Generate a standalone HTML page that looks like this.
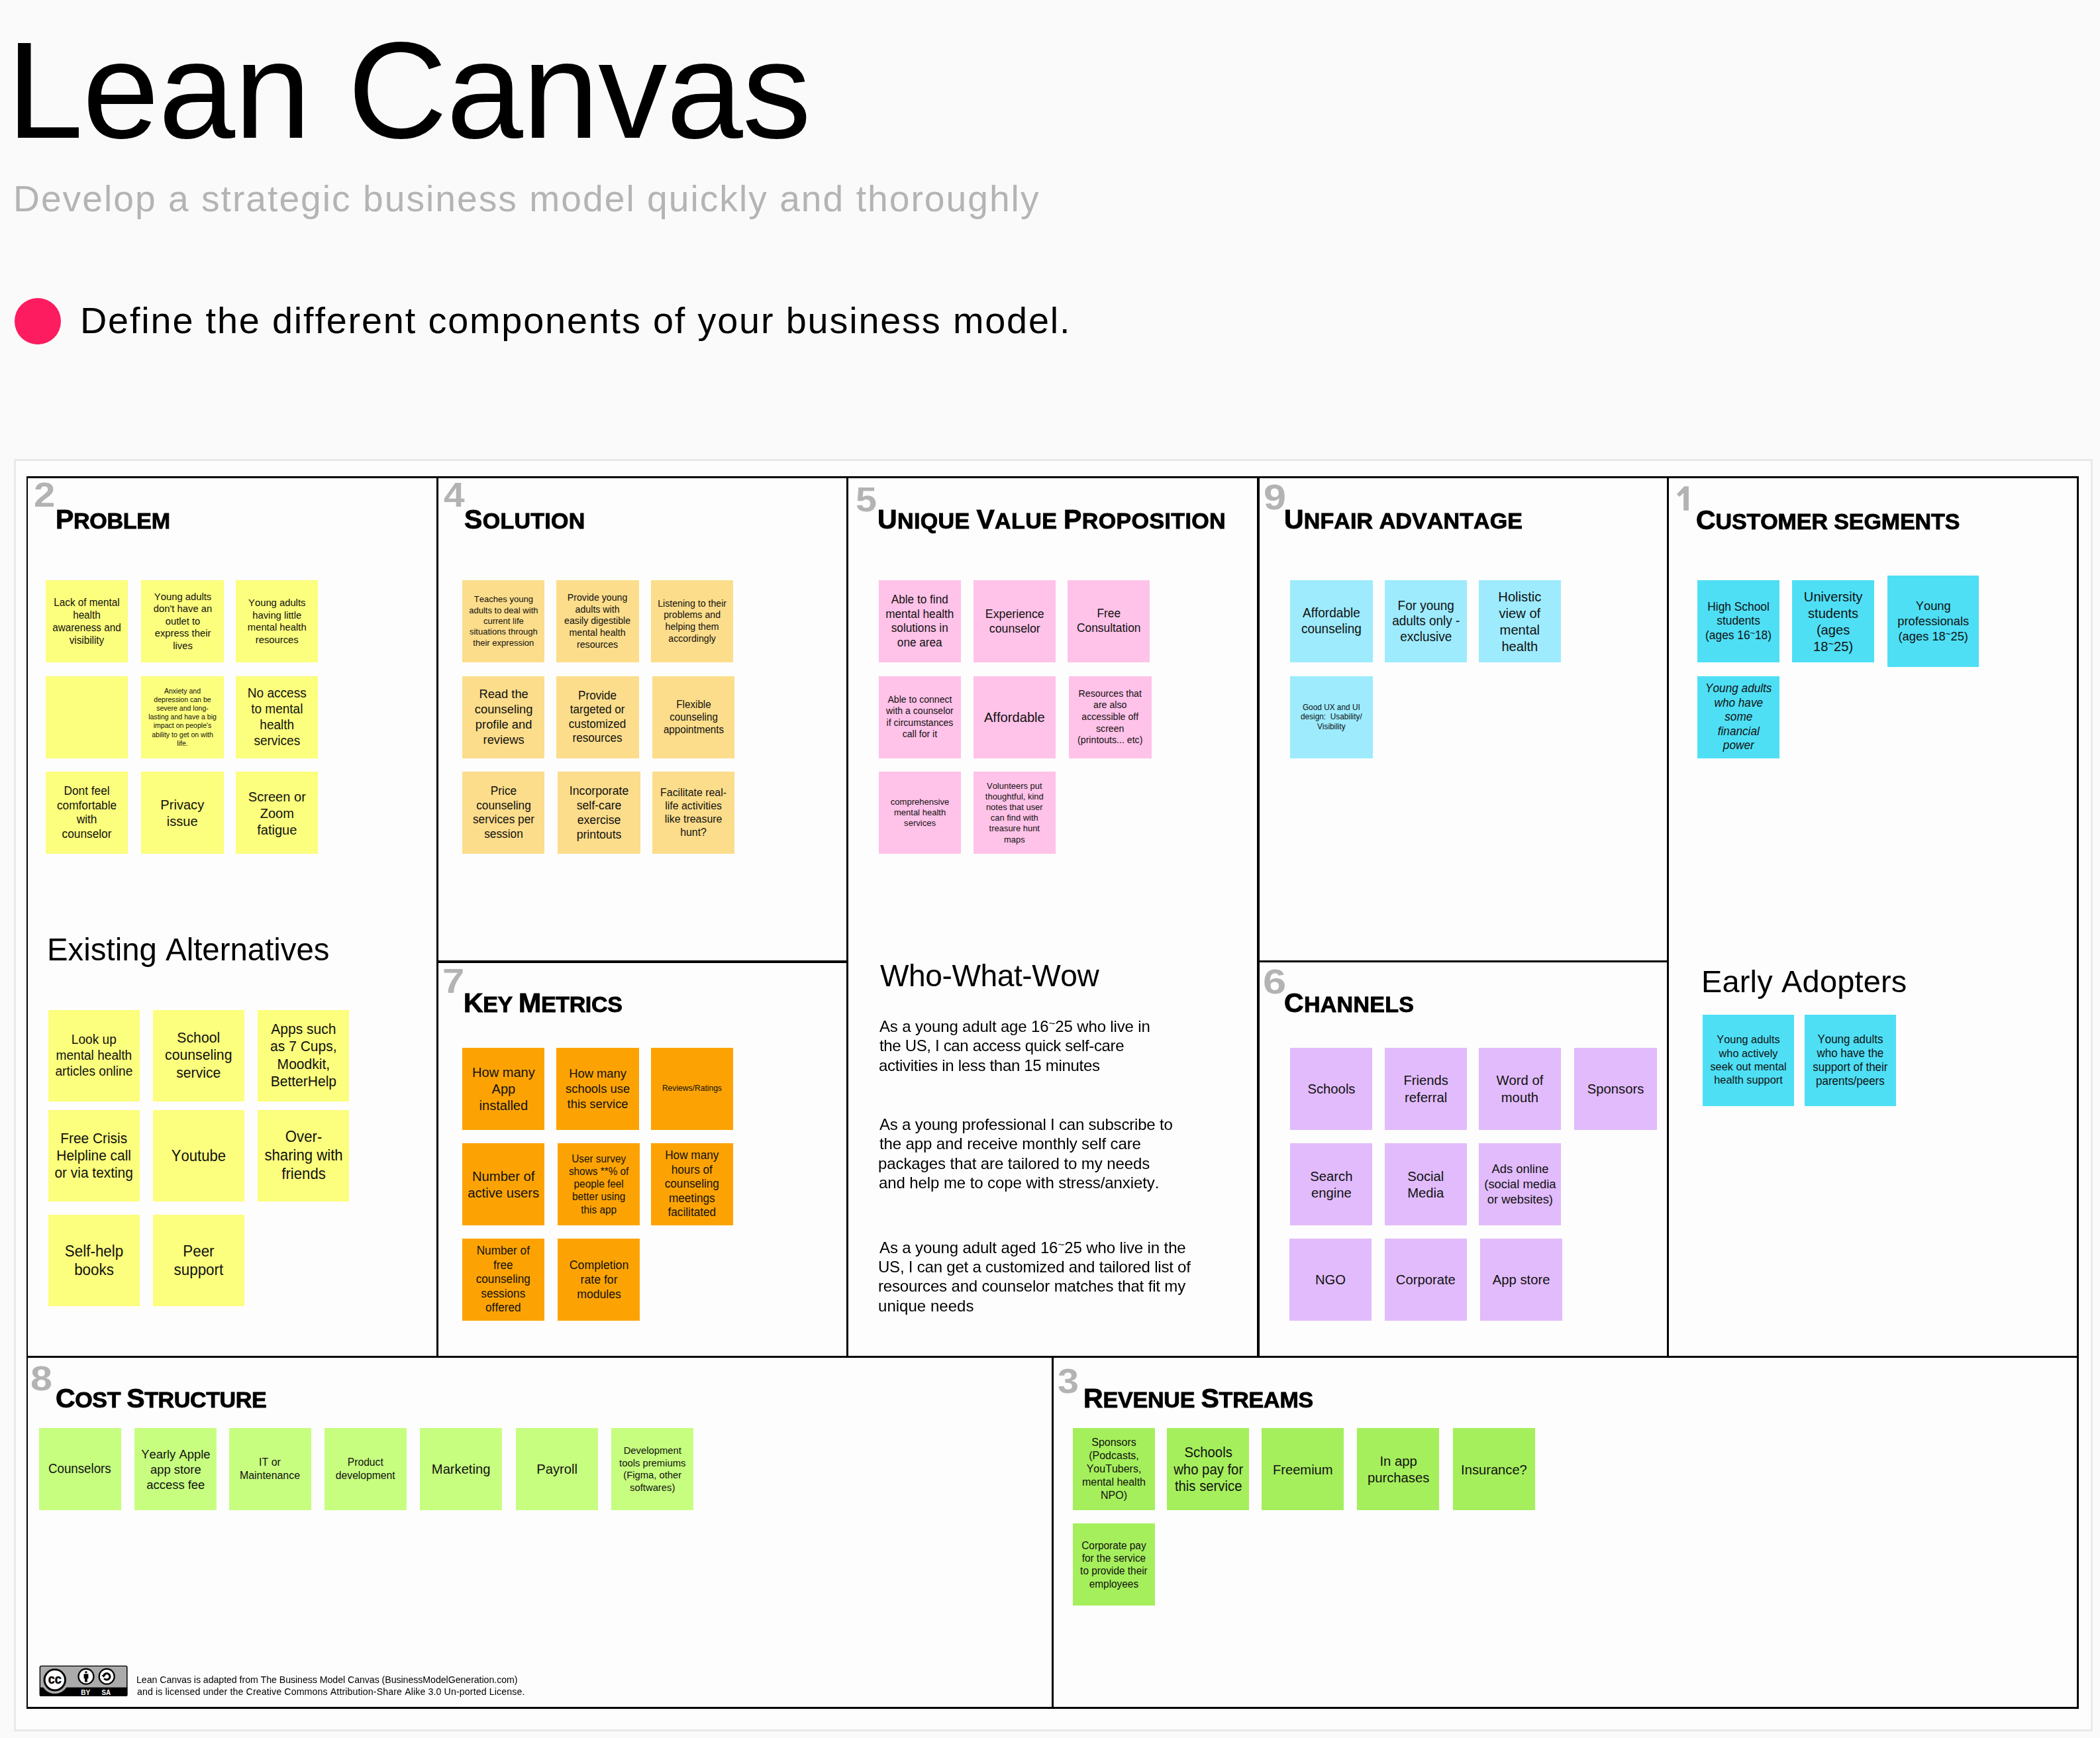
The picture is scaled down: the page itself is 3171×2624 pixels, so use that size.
<!DOCTYPE html>
<html><head><meta charset="utf-8"><title>Lean Canvas</title>
<style>
html,body{margin:0;padding:0}
body{font-kerning:none;width:3171px;height:2624px;background:#fafafa;position:relative;overflow:hidden;font-family:"Liberation Sans",sans-serif;color:#000}
.panel{position:absolute;left:21px;top:693px;width:3133px;height:1914.5px;border:3px solid #e9e9e9;background:#fdfdfd}
.l{position:absolute;background:#000}
.t{position:absolute;white-space:pre;line-height:1;will-change:transform}
.ft{color:#000}
.h{position:absolute;white-space:pre;line-height:1;font-weight:700;font-size:34.01px;height:40.99px}
.h b{font-size:40.99px}
.h{-webkit-text-stroke:0.9px #000;will-change:transform}
.num{position:absolute;line-height:1;font-weight:700;color:#b3b3b3;transform-origin:0 50%}
.n{position:absolute;display:flex;align-items:center;justify-content:center}
.nt{text-align:center;white-space:pre;color:#111}
.tl{font-style:inherit;font-size:.72em;vertical-align:.4em;line-height:0}
.dot{position:absolute;left:22.3px;top:449.6px;width:69.4px;height:70.4px;border-radius:50%;background:#fc1c5f}
</style></head><body>
<div class="panel"></div>
<div class="dot"></div>
<!-- grid lines -->
<div class="l" style="left:40px;top:719px;width:3099px;height:3px"></div>
<div class="l" style="left:40px;top:2577px;width:3099px;height:3px"></div>
<div class="l" style="left:40px;top:719px;width:2.4px;height:1861px"></div>
<div class="l" style="left:3136px;top:719px;width:3px;height:1861px"></div>
<div class="l" style="left:40px;top:2047.3px;width:3099px;height:3px"></div>
<div class="l" style="left:659.2px;top:719px;width:2.8px;height:1331px"></div>
<div class="l" style="left:1278.4px;top:719px;width:2.8px;height:1331px"></div>
<div class="l" style="left:1897.7px;top:719px;width:4px;height:1331px"></div>
<div class="l" style="left:2517px;top:719px;width:3px;height:1331px"></div>
<div class="l" style="left:659.2px;top:1450.4px;width:621px;height:3.2px"></div>
<div class="l" style="left:1897.7px;top:1450.2px;width:622px;height:3.2px"></div>
<div class="l" style="left:1587.6px;top:2047.3px;width:3px;height:532px"></div>
<div class="n" style="left:69.1px;top:876px;width:124.4px;height:124.4px;background:#FCFE7D;"><div class="nt" style="font-size:15.92px;line-height:19.1px;transform:translate(0px,0.4px) scaleX(0.96);">Lack of mental<br>health<br>awareness and<br>visibility</div></div>
<div class="n" style="left:213.4px;top:876px;width:124.4px;height:124.4px;background:#FCFE7D;"><div class="nt" style="font-size:15.42px;line-height:18.5px;transform:translate(0px,0.4px) scaleX(0.96);">Young adults<br>don&#x27;t have an<br>outlet to<br>express their<br>lives</div></div>
<div class="n" style="left:355.8px;top:876px;width:124.4px;height:124.4px;background:#FCFE7D;"><div class="nt" style="font-size:15.42px;line-height:18.5px;transform:translate(0px,0.4px) scaleX(0.96);">Young adults<br>having little<br>mental health<br>resources</div></div>
<div class="n" style="left:69.1px;top:1020.7px;width:124.4px;height:124.4px;background:#FCFE7D;"></div>
<div class="n" style="left:213.4px;top:1020.7px;width:124.4px;height:124.4px;background:#FCFE7D;"><div class="nt" style="font-size:11px;line-height:13.2px;transform:translate(0px,0.4px) scaleX(0.96);">Anxiety and<br>depression can be<br>severe and long-<br>lasting and have a big<br>impact on people&#x27;s<br>ability to get on with<br>life.</div></div>
<div class="n" style="left:355.8px;top:1020.7px;width:124.4px;height:124.4px;background:#FCFE7D;"><div class="nt" style="font-size:19.83px;line-height:23.8px;transform:translate(0px,0.4px) scaleX(0.96);">No access<br>to mental<br>health<br>services</div></div>
<div class="n" style="left:69.1px;top:1165px;width:124.4px;height:124.4px;background:#FCFE7D;"><div class="nt" style="font-size:18px;line-height:21.6px;transform:translate(0px,0.4px) scaleX(0.96);">Dont feel<br>comfortable<br>with<br>counselor</div></div>
<div class="n" style="left:213.4px;top:1165px;width:124.4px;height:124.4px;background:#FCFE7D;"><div class="nt" style="font-size:20.92px;line-height:25.1px;transform:translate(0px,0.4px) scaleX(0.96);">Privacy<br>issue</div></div>
<div class="n" style="left:355.8px;top:1165px;width:124.4px;height:124.4px;background:#FCFE7D;"><div class="nt" style="font-size:20.92px;line-height:25.1px;transform:translate(0px,0.4px) scaleX(0.96);">Screen or<br>Zoom<br>fatigue</div></div>
<div class="n" style="left:698.1px;top:876px;width:124.4px;height:124.4px;background:#FCDD8B;"><div class="nt" style="font-size:13.58px;line-height:16.3px;transform:translate(0px,0.4px) scaleX(0.96);">Teaches young<br>adults to deal with<br>current life<br>situations through<br>their expression</div></div>
<div class="n" style="left:840.2px;top:876px;width:124.4px;height:124.4px;background:#FCDD8B;"><div class="nt" style="font-size:14.75px;line-height:17.7px;transform:translate(0px,0.4px) scaleX(0.96);">Provide young<br>adults with<br>easily digestible<br>mental health<br>resources</div></div>
<div class="n" style="left:982.9px;top:876px;width:124.4px;height:124.4px;background:#FCDD8B;"><div class="nt" style="font-size:14.75px;line-height:17.7px;transform:translate(0px,0.4px) scaleX(0.96);">Listening to their<br>problems and<br>helping them<br>accordingly</div></div>
<div class="n" style="left:698.1px;top:1020.7px;width:124.4px;height:124.4px;background:#FCDD8B;"><div class="nt" style="font-size:19.08px;line-height:22.9px;transform:translate(0px,0.4px) scaleX(0.96);">Read the<br>counseling<br>profile and<br>reviews</div></div>
<div class="n" style="left:840.2px;top:1020.7px;width:124.4px;height:124.4px;background:#FCDD8B;"><div class="nt" style="font-size:17.83px;line-height:21.4px;transform:translate(0px,0.4px) scaleX(0.96);">Provide<br>targeted or<br>customized<br>resources</div></div>
<div class="n" style="left:985px;top:1020.7px;width:124.4px;height:124.4px;background:#FCDD8B;"><div class="nt" style="font-size:15.83px;line-height:19px;transform:translate(0px,0.4px) scaleX(0.96);">Flexible<br>counseling<br>appointments</div></div>
<div class="n" style="left:698.1px;top:1165px;width:124.4px;height:124.4px;background:#FCDD8B;"><div class="nt" style="font-size:18px;line-height:21.6px;transform:translate(0px,0.4px) scaleX(0.96);">Price<br>counseling<br>services per<br>session</div></div>
<div class="n" style="left:842.3px;top:1165px;width:124.4px;height:124.4px;background:#FCDD8B;"><div class="nt" style="font-size:18.42px;line-height:22.1px;transform:translate(0px,0.4px) scaleX(0.96);">Incorporate<br>self-care<br>exercise<br>printouts</div></div>
<div class="n" style="left:985px;top:1165px;width:124.4px;height:124.4px;background:#FCDD8B;"><div class="nt" style="font-size:16.58px;line-height:19.9px;transform:translate(0px,0.4px) scaleX(0.96);">Facilitate real-<br>life activities<br>like treasure<br>hunt?</div></div>
<div class="n" style="left:1327px;top:876px;width:124.4px;height:124.4px;background:#FFC2E8;"><div class="nt" style="font-size:17.92px;line-height:21.5px;transform:translate(0px,0.4px) scaleX(0.96);">Able to find<br>mental health<br>solutions in<br>one area</div></div>
<div class="n" style="left:1469.7px;top:876px;width:124.4px;height:124.4px;background:#FFC2E8;"><div class="nt" style="font-size:18.5px;line-height:22.2px;transform:translate(0px,0.4px) scaleX(0.96);">Experience<br>counselor</div></div>
<div class="n" style="left:1612.1px;top:876px;width:124.4px;height:124.4px;background:#FFC2E8;"><div class="nt" style="font-size:18.08px;line-height:21.7px;transform:translate(0px,0.4px) scaleX(0.96);">Free<br>Consultation</div></div>
<div class="n" style="left:1327px;top:1020.7px;width:124.4px;height:124.4px;background:#FFC2E8;"><div class="nt" style="font-size:14.67px;line-height:17.6px;transform:translate(0px,0.4px) scaleX(0.96);">Able to connect<br>with a counselor<br>if circumstances<br>call for it</div></div>
<div class="n" style="left:1469.7px;top:1020.7px;width:124.4px;height:124.4px;background:#FFC2E8;"><div class="nt" style="font-size:21px;line-height:25px;transform:translate(0px,0.4px) scaleX(0.96);">Affordable</div></div>
<div class="n" style="left:1614.2px;top:1020.7px;width:124.4px;height:124.4px;background:#FFC2E8;"><div class="nt" style="font-size:14.75px;line-height:17.7px;transform:translate(0px,0.4px) scaleX(0.96);">Resources that<br>are also<br>accessible off<br>screen<br>(printouts... etc)</div></div>
<div class="n" style="left:1327px;top:1165px;width:124.4px;height:124.4px;background:#FFC2E8;"><div class="nt" style="font-size:13.58px;line-height:16.3px;transform:translate(0px,0.4px) scaleX(0.96);">comprehensive<br>mental health<br>services</div></div>
<div class="n" style="left:1469.7px;top:1165px;width:124.4px;height:124.4px;background:#FFC2E8;"><div class="nt" style="font-size:13.5px;line-height:16.2px;transform:translate(0px,0.4px) scaleX(0.96);">Volunteers put<br>thoughtful, kind<br>notes that user<br>can find with<br>treasure hunt<br>maps</div></div>
<div class="n" style="left:1948.3px;top:876px;width:124.4px;height:124.4px;background:#9DEBFD;"><div class="nt" style="font-size:19.83px;line-height:23.8px;transform:translate(0px,0.4px) scaleX(0.96);">Affordable<br>counseling</div></div>
<div class="n" style="left:2090.7px;top:876px;width:124.4px;height:124.4px;background:#9DEBFD;"><div class="nt" style="font-size:19.75px;line-height:23.7px;transform:translate(0px,0.4px) scaleX(0.96);">For young<br>adults only -<br>exclusive</div></div>
<div class="n" style="left:2233.1px;top:876px;width:124.4px;height:124.4px;background:#9DEBFD;"><div class="nt" style="font-size:21px;line-height:25.2px;transform:translate(0px,0.4px) scaleX(0.96);">Holistic<br>view of<br>mental<br>health</div></div>
<div class="n" style="left:1948.3px;top:1020.7px;width:124.4px;height:124.4px;background:#9DEBFD;"><div class="nt" style="font-size:12.33px;line-height:14.8px;transform:translate(0px,0.4px) scaleX(0.96);">Good UX and UI<br>design:  Usability/<br>Visibility</div></div>
<div class="n" style="left:2563.1px;top:876px;width:124.4px;height:124.4px;background:#4EDFF5;"><div class="nt" style="font-size:18.08px;line-height:21.7px;transform:translate(0px,0.4px) scaleX(0.96);">High School<br>students<br>(ages 16<i class="tl">~</i>18)</div></div>
<div class="n" style="left:2705.5px;top:876px;width:124.4px;height:124.4px;background:#4EDFF5;"><div class="nt" style="font-size:21px;line-height:25.2px;transform:translate(0px,0.4px) scaleX(0.96);">University<br>students<br>(ages<br>18<i class="tl">~</i>25)</div></div>
<div class="n" style="left:2850px;top:869.1px;width:138px;height:138px;background:#4EDFF5;"><div class="nt" style="font-size:19.08px;line-height:22.9px;transform:translate(0px,0.4px) scaleX(0.96);">Young<br>professionals<br>(ages 18<i class="tl">~</i>25)</div></div>
<div class="n" style="left:2563.1px;top:1020.7px;width:124.4px;height:124.4px;background:#4EDFF5;"><div class="nt" style="font-size:17.92px;line-height:21.5px;transform:translate(0px,0.4px) scaleX(0.96);font-style:italic;">Young adults<br>who have<br>some<br>financial<br>power</div></div>
<div class="n" style="left:73px;top:1524.6px;width:138.1px;height:138.1px;background:#FCFE7D;"><div class="nt" style="font-size:19.92px;line-height:23.9px;transform:translate(0px,0.4px) scaleX(0.96);">Look up<br>mental health<br>articles online</div></div>
<div class="n" style="left:230.9px;top:1524.6px;width:138.1px;height:138.1px;background:#FCFE7D;"><div class="nt" style="font-size:22.08px;line-height:26.5px;transform:translate(0px,0.4px) scaleX(0.96);">School<br>counseling<br>service</div></div>
<div class="n" style="left:389.1px;top:1524.6px;width:138.1px;height:138.1px;background:#FCFE7D;"><div class="nt" style="font-size:21.92px;line-height:26.3px;transform:translate(0px,0.4px) scaleX(0.96);">Apps such<br>as 7 Cups,<br>Moodkit,<br>BetterHelp</div></div>
<div class="n" style="left:73px;top:1675.8px;width:138.1px;height:138.1px;background:#FCFE7D;"><div class="nt" style="font-size:21.75px;line-height:26.1px;transform:translate(0px,0.4px) scaleX(0.96);">Free Crisis<br>Helpline call<br>or via texting</div></div>
<div class="n" style="left:230.9px;top:1675.8px;width:138.1px;height:138.1px;background:#FCFE7D;"><div class="nt" style="font-size:23px;line-height:28px;transform:translate(0px,0.4px) scaleX(0.96);">Youtube</div></div>
<div class="n" style="left:389.1px;top:1675.8px;width:138.1px;height:138.1px;background:#FCFE7D;"><div class="nt" style="font-size:23.08px;line-height:27.7px;transform:translate(0px,0.4px) scaleX(0.96);">Over-<br>sharing with<br>friends</div></div>
<div class="n" style="left:73px;top:1833.7px;width:138.1px;height:138.1px;background:#FCFE7D;"><div class="nt" style="font-size:23.33px;line-height:28px;transform:translate(0px,0.4px) scaleX(0.96);">Self-help<br>books</div></div>
<div class="n" style="left:230.9px;top:1833.7px;width:138.1px;height:138.1px;background:#FCFE7D;"><div class="nt" style="font-size:23.33px;line-height:28px;transform:translate(0px,0.4px) scaleX(0.96);">Peer<br>support</div></div>
<div class="n" style="left:697.9px;top:1581.6px;width:124.2px;height:124.2px;background:#FCA303;"><div class="nt" style="font-size:20.92px;line-height:25.1px;transform:translate(0px,0.4px) scaleX(0.96);">How many<br>App<br>installed</div></div>
<div class="n" style="left:840.4px;top:1581.6px;width:124.2px;height:124.2px;background:#FCA303;"><div class="nt" style="font-size:19.17px;line-height:23px;transform:translate(0px,0.4px) scaleX(0.96);">How many<br>schools use<br>this service</div></div>
<div class="n" style="left:982.8px;top:1581.6px;width:124.2px;height:124.2px;background:#FCA303;"><div class="nt" style="font-size:12.6px;line-height:15px;transform:translate(0px,0.4px) scaleX(0.96);">Reviews/Ratings</div></div>
<div class="n" style="left:697.9px;top:1725.8px;width:124.2px;height:124.2px;background:#FCA303;"><div class="nt" style="font-size:21.08px;line-height:25.3px;transform:translate(0px,0.4px) scaleX(0.96);">Number of<br>active users</div></div>
<div class="n" style="left:842.1px;top:1725.8px;width:124.2px;height:124.2px;background:#FCA303;"><div class="nt" style="font-size:16px;line-height:19.2px;transform:translate(0px,0.4px) scaleX(0.96);">User survey<br>shows **% of<br>people feel<br>better using<br>this app</div></div>
<div class="n" style="left:982.8px;top:1725.8px;width:124.2px;height:124.2px;background:#FCA303;"><div class="nt" style="font-size:17.92px;line-height:21.5px;transform:translate(0px,0.4px) scaleX(0.96);">How many<br>hours of<br>counseling<br>meetings<br>facilitated</div></div>
<div class="n" style="left:697.9px;top:1870px;width:124.2px;height:124.2px;background:#FCA303;"><div class="nt" style="font-size:17.92px;line-height:21.5px;transform:translate(0px,0.4px) scaleX(0.96);">Number of<br>free<br>counseling<br>sessions<br>offered</div></div>
<div class="n" style="left:842.1px;top:1870px;width:124.2px;height:124.2px;background:#FCA303;"><div class="nt" style="font-size:18.42px;line-height:22.1px;transform:translate(0px,0.4px) scaleX(0.96);">Completion<br>rate for<br>modules</div></div>
<div class="n" style="left:1948.3px;top:1581.6px;width:124.2px;height:124.2px;background:#E1BBFB;"><div class="nt" style="font-size:21.08px;line-height:25.3px;transform:translate(0px,0.4px) scaleX(0.96);">Schools</div></div>
<div class="n" style="left:2090.8px;top:1581.6px;width:124.2px;height:124.2px;background:#E1BBFB;"><div class="nt" style="font-size:21.08px;line-height:25.3px;transform:translate(0px,0.4px) scaleX(0.96);">Friends<br>referral</div></div>
<div class="n" style="left:2233px;top:1581.6px;width:124.2px;height:124.2px;background:#E1BBFB;"><div class="nt" style="font-size:21.08px;line-height:25.3px;transform:translate(0px,0.4px) scaleX(0.96);">Word of<br>mouth</div></div>
<div class="n" style="left:2377.4px;top:1581.6px;width:124.2px;height:124.2px;background:#E1BBFB;"><div class="nt" style="font-size:21.08px;line-height:25.3px;transform:translate(0px,0.4px) scaleX(0.96);">Sponsors</div></div>
<div class="n" style="left:1948.3px;top:1725.8px;width:124.2px;height:124.2px;background:#E1BBFB;"><div class="nt" style="font-size:21.08px;line-height:25.3px;transform:translate(0px,0.4px) scaleX(0.96);">Search<br>engine</div></div>
<div class="n" style="left:2090.8px;top:1725.8px;width:124.2px;height:124.2px;background:#E1BBFB;"><div class="nt" style="font-size:21.08px;line-height:25.3px;transform:translate(0px,0.4px) scaleX(0.96);">Social<br>Media</div></div>
<div class="n" style="left:2233px;top:1725.8px;width:124.2px;height:124.2px;background:#E1BBFB;"><div class="nt" style="font-size:19.17px;line-height:23px;transform:translate(0px,0.4px) scaleX(0.96);">Ads online<br>(social media<br>or websites)</div></div>
<div class="n" style="left:1946.5px;top:1870px;width:124.2px;height:124.2px;background:#E1BBFB;"><div class="nt" style="font-size:21.08px;line-height:25.3px;transform:translate(0px,0.4px) scaleX(0.96);">NGO</div></div>
<div class="n" style="left:2090.8px;top:1870px;width:124.2px;height:124.2px;background:#E1BBFB;"><div class="nt" style="font-size:21.08px;line-height:25.3px;transform:translate(0px,0.4px) scaleX(0.96);">Corporate</div></div>
<div class="n" style="left:2235.2px;top:1870px;width:124.2px;height:124.2px;background:#E1BBFB;"><div class="nt" style="font-size:21.08px;line-height:25.3px;transform:translate(0px,0.4px) scaleX(0.96);">App store</div></div>
<div class="n" style="left:2571px;top:1532.2px;width:137.8px;height:137.8px;background:#4EDFF5;"><div class="nt" style="font-size:17px;line-height:20.4px;transform:translate(0px,0.4px) scaleX(0.96);">Young adults<br>who actively<br>seek out mental<br>health support</div></div>
<div class="n" style="left:2725.2px;top:1532.2px;width:137.9px;height:137.9px;background:#4EDFF5;"><div class="nt" style="font-size:17.67px;line-height:21.2px;transform:translate(0px,0.4px) scaleX(0.96);">Young adults<br>who have the<br>support of their<br>parents/peers</div></div>
<div class="n" style="left:58.8px;top:2156px;width:124px;height:124px;background:#C7FE80;"><div class="nt" style="font-size:19.5px;line-height:23.4px;transform:translate(0px,0.4px) scaleX(0.96);">Counselors</div></div>
<div class="n" style="left:203.1px;top:2156px;width:124px;height:124px;background:#C7FE80;"><div class="nt" style="font-size:19.17px;line-height:23px;transform:translate(0px,0.4px) scaleX(0.96);">Yearly Apple<br>app store<br>access fee</div></div>
<div class="n" style="left:345.9px;top:2156px;width:124px;height:124px;background:#C7FE80;"><div class="nt" style="font-size:16.58px;line-height:19.9px;transform:translate(0px,0.4px) scaleX(0.96);">IT or<br>Maintenance</div></div>
<div class="n" style="left:490.2px;top:2156px;width:124px;height:124px;background:#C7FE80;"><div class="nt" style="font-size:16.33px;line-height:19.6px;transform:translate(0px,0.4px) scaleX(0.96);">Product<br>development</div></div>
<div class="n" style="left:634.1px;top:2156px;width:124px;height:124px;background:#C7FE80;"><div class="nt" style="font-size:21px;line-height:25.2px;transform:translate(0px,0.4px) scaleX(0.96);">Marketing</div></div>
<div class="n" style="left:778.8px;top:2156px;width:124px;height:124px;background:#C7FE80;"><div class="nt" style="font-size:21px;line-height:25.2px;transform:translate(0px,0.4px) scaleX(0.96);">Payroll</div></div>
<div class="n" style="left:923px;top:2156px;width:124px;height:124px;background:#C7FE80;"><div class="nt" style="font-size:15.42px;line-height:18.5px;transform:translate(0px,0.4px) scaleX(0.96);">Development<br>tools premiums<br>(Figma, other<br>softwares)</div></div>
<div class="n" style="left:1620.1px;top:2156.3px;width:124px;height:124px;background:#A5EF5C;"><div class="nt" style="font-size:16.67px;line-height:20px;transform:translate(0px,0.4px) scaleX(0.96);">Sponsors<br>(Podcasts,<br>YouTubers,<br>mental health<br>NPO)</div></div>
<div class="n" style="left:1762.4px;top:2156.3px;width:124px;height:124px;background:#A5EF5C;"><div class="nt" style="font-size:21.17px;line-height:25.4px;transform:translate(0px,0.4px) scaleX(0.96);">Schools<br>who pay for<br>this service</div></div>
<div class="n" style="left:1905.1px;top:2156.3px;width:124px;height:124px;background:#A5EF5C;"><div class="nt" style="font-size:21px;line-height:25.2px;transform:translate(0px,0.4px) scaleX(0.96);">Freemium</div></div>
<div class="n" style="left:2049.2px;top:2156.3px;width:124px;height:124px;background:#A5EF5C;"><div class="nt" style="font-size:21.08px;line-height:25.3px;transform:translate(0px,0.4px) scaleX(0.96);">In app<br>purchases</div></div>
<div class="n" style="left:2193.7px;top:2156.3px;width:124px;height:124px;background:#A5EF5C;"><div class="nt" style="font-size:21px;line-height:25.2px;transform:translate(0px,0.4px) scaleX(0.96);">Insurance?</div></div>
<div class="n" style="left:1620.1px;top:2300.4px;width:124px;height:124px;background:#A5EF5C;"><div class="nt" style="font-size:16px;line-height:19.2px;transform:translate(0px,0.4px) scaleX(0.96);">Corporate pay<br>for the service<br>to provide their<br>employees</div></div>
<div class="h" style="left:84.26px;top:764.3px;letter-spacing:-0.28px"><b>P</b>ROBLEM</div>
<div class="h" style="left:700.62px;top:764.3px;letter-spacing:0.29px"><b>S</b>OLUTION</div>
<div class="h" style="left:1324.84px;top:764.3px;letter-spacing:0.38px"><b>U</b>NIQUE <b>V</b>ALUE <b>P</b>ROPOSITION</div>
<div class="h" style="left:1938.74px;top:764.3px;letter-spacing:0.11px"><b>U</b>NFAIR ADVANTAGE</div>
<div class="h" style="left:2561.22px;top:764.6px;letter-spacing:-0.09px"><b>C</b>USTOMER SEGMENTS</div>
<div class="h" style="left:700.46px;top:1494.4px;letter-spacing:-0.34px"><b>K</b>EY <b>M</b>ETRICS</div>
<div class="h" style="left:1938.52px;top:1494.4px;letter-spacing:0.3px"><b>C</b>HANNELS</div>
<div class="h" style="left:84.12px;top:2090.8px;letter-spacing:-0.36px"><b>C</b>OST <b>S</b>TRUCTURE</div>
<div class="h" style="left:1636.36px;top:2091.3px;letter-spacing:-0.18px"><b>R</b>EVENUE <b>S</b>TREAMS</div>
<div class="num" style="left:50.98px;top:721.45px;font-size:52.63px;transform:scaleX(1.105)">2</div>
<div class="num" style="left:669.84px;top:722.27px;font-size:51.07px;transform:scaleX(1.115)">4</div>
<div class="num" style="left:1292.03px;top:729.15px;font-size:51.92px;transform:scaleX(1.107)">5</div>
<div class="num" style="left:1907.68px;top:725.31px;font-size:52.92px;transform:scaleX(1.155)">9</div>
<div class="num" style="left:667.93px;top:1457.09px;font-size:50.92px;transform:scaleX(1.176)">7</div>
<div class="num" style="left:1906.98px;top:1455.89px;font-size:52.35px;transform:scaleX(1.209)">6</div>
<div class="num" style="left:45.92px;top:2054.83px;font-size:52.06px;transform:scaleX(1.140)">8</div>
<div class="num" style="left:1596.58px;top:2059.67px;font-size:51.78px;transform:scaleX(1.111)">3</div>
<svg style="position:absolute;left:2530px;top:732px" width="24" height="42" viewBox="2530 732 24 42"><polygon fill="#b3b3b3" points="2543.3,734.2 2549.9,734.2 2549.9,770.7 2542.15,770.7 2542.15,744.3 2536,750 2531.9,746.2"/></svg>
<div class="t" style="left:70.51px;top:1409.89px;font-size:47.38px;letter-spacing:0px;">Existing Alternatives</div>
<div class="t" style="left:1328.5px;top:1450px;font-size:46.08px;letter-spacing:-0.41px;">Who-What-Wow</div>
<div class="t" style="left:2569.25px;top:1459.36px;font-size:46.95px;letter-spacing:0.19px;">Early Adopters</div>
<div class="t" style="left:1327.95px;top:1537.78px;font-size:24px;letter-spacing:-0.15px;">As a young adult age 16<i class="tl">~</i>25 who live in</div>
<div class="t" style="left:1327.64px;top:1567.28px;font-size:24px;letter-spacing:-0.34px;">the US, I can access quick self-care</div>
<div class="t" style="left:1326.98px;top:1596.58px;font-size:24px;letter-spacing:-0.31px;">activities in less than 15 minutes</div>
<div class="t" style="left:1327.95px;top:1686.18px;font-size:24px;letter-spacing:-0.2px;">As a young professional I can subscribe to</div>
<div class="t" style="left:1327.64px;top:1715.48px;font-size:24px;letter-spacing:-0.11px;">the app and receive monthly self care</div>
<div class="t" style="left:1326.45px;top:1744.88px;font-size:24px;letter-spacing:-0.09px;">packages that are tailored to my needs</div>
<div class="t" style="left:1326.98px;top:1774.18px;font-size:24px;letter-spacing:-0.09px;">and help me to cope with stress/anxiety.</div>
<div class="t" style="left:1327.95px;top:1871.58px;font-size:24px;letter-spacing:-0.12px;">As a young adult aged 16<i class="tl">~</i>25 who live in the</div>
<div class="t" style="left:1326.15px;top:1900.88px;font-size:24px;letter-spacing:-0.21px;">US, I can get a customized and tailored list of</div>
<div class="t" style="left:1326.41px;top:1930.28px;font-size:24px;letter-spacing:-0.16px;">resources and counselor matches that fit my</div>
<div class="t" style="left:1326.44px;top:1959.58px;font-size:24px;letter-spacing:0.03px;">unique needs</div>
<div class="t" style="left:9.61px;top:31.99px;font-size:208.28px;letter-spacing:-1.25px;">Lean Canvas</div>
<div class="t" style="left:20.47px;top:272.85px;font-size:55.23px;letter-spacing:2px;color:#b4b4b4;">Develop a strategic business model quickly and thoroughly</div>
<div class="t" style="left:121.12px;top:455.95px;font-size:55.81px;letter-spacing:1.83px;">Define the different components of your business model.</div>
<div class="t ft" style="left:206.44px;top:2528.68px;font-size:14.2px;letter-spacing:-0.06px;">Lean Canvas is adapted from The Business Model Canvas (BusinessModelGeneration.com)</div>
<div class="t ft" style="left:207px;top:2547.28px;font-size:14.2px;letter-spacing:0.11px;">and is licensed under the Creative Commons Attribution-Share Alike 3.0 Un-ported License.</div>
<svg class="cc" style="position:absolute;left:59.4px;top:2514.1px" width="134.2" height="47.8" viewBox="-0.7 -0.7 134.2 47.8">
<defs><clipPath id="cb"><rect x="0" y="0" width="132.8" height="46.4" rx="2.2"/></clipPath></defs>
<rect x="0" y="0" width="132.8" height="46.4" rx="2.2" fill="#ababab"/>
<g clip-path="url(#cb)"><rect x="0" y="32.9" width="132.8" height="14" fill="#000"/>
<circle cx="23.1" cy="21.6" r="20.8" fill="#ababab"/></g>
<rect x="0.7" y="0.7" width="131.4" height="45" rx="1.8" fill="none" stroke="#000" stroke-width="1.4"/>
<circle cx="23.1" cy="21.6" r="15.7" fill="#fff" stroke="#000" stroke-width="2.9"/>
<text x="23.1" y="26.9" font-family="Liberation Sans, sans-serif" font-weight="700" font-size="19.5" text-anchor="middle" textLength="20" lengthAdjust="spacingAndGlyphs" stroke="#000" stroke-width="0.5">cc</text>
<circle cx="70.3" cy="16.5" r="11.5" fill="#fff" stroke="#000" stroke-width="2.2"/>
<circle cx="70.3" cy="9.9" r="1.7" fill="#000"/>
<path d="M66.9 12.5h6.8v7h-1.5v5.2h-3.8v-5.2h-1.5z" fill="#000"/>
<circle cx="101.5" cy="16.5" r="11.5" fill="#fff" stroke="#000" stroke-width="2.2"/>
<path d="M97 14.9 A4.8 4.8 0 1 1 97.6 19.4" fill="none" stroke="#000" stroke-width="3"/>
<path d="M93.7 14.3h6.2l-3.1 3.8z" fill="#000"/>
<text x="62.6" y="43.9" font-family="Liberation Sans, sans-serif" font-weight="700" font-size="11" fill="#fff" textLength="14" lengthAdjust="spacingAndGlyphs">BY</text>
<text x="93.8" y="43.9" font-family="Liberation Sans, sans-serif" font-weight="700" font-size="11" fill="#fff" textLength="13.6" lengthAdjust="spacingAndGlyphs">SA</text>
</svg>
</body></html>
